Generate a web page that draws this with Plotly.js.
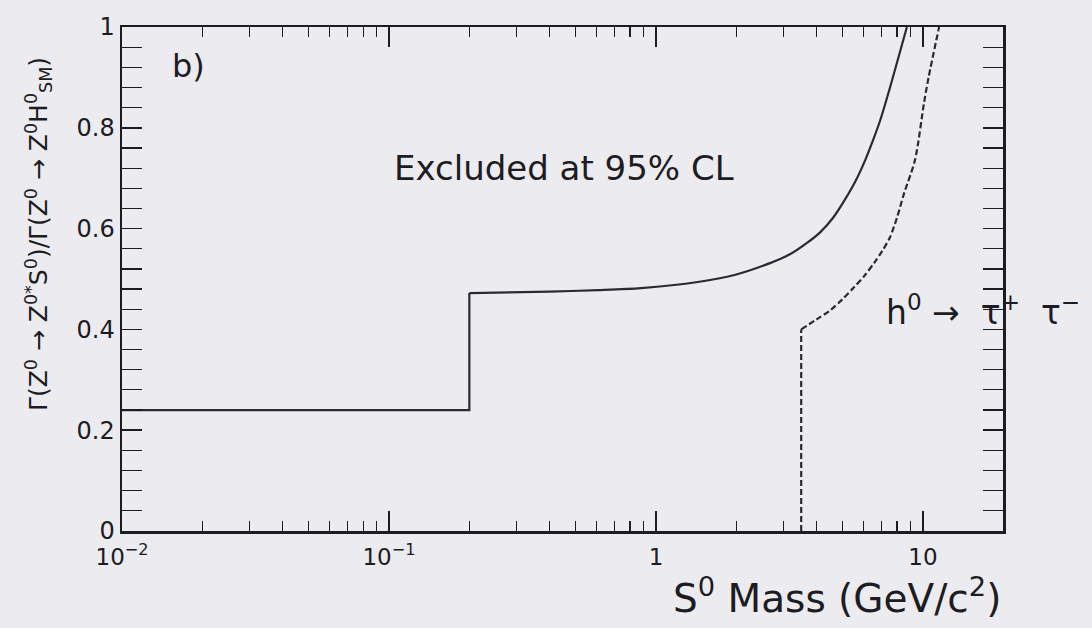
<!DOCTYPE html>
<html>
<head>
<meta charset="utf-8">
<script src="https://cdn.plot.ly/plotly-3.0.1.min.js"></script>
<style>html,body{margin:0;padding:0;background:#ecebf0;}#chart{width:1092px;height:628px;}</style>
</head>
<body>
<div id="chart"></div>
<script>
// Solid curve (95% CL limit); first three points are the step
const solidMass = [0.01, 0.2, 0.2, 0.4, 0.608, 0.879, 1.435, 1.97, 2.69, 3.2, 3.69, 4.13, 4.6, 5.07, 5.6, 6.08, 6.5, 6.92, 7.53, 8.1, 8.71];
const solidRatio = [0.24, 0.24, 0.472, 0.475, 0.478, 0.482, 0.494, 0.508, 0.532, 0.550, 0.572, 0.593, 0.621, 0.655, 0.695, 0.736, 0.775, 0.815, 0.88, 0.94, 1.0];
// Dashed curve (h0 -> tau+ tau-); first two points are the vertical edge
const dashMass = [3.5, 3.5, 4.0, 4.5, 5.0, 5.53, 6.05, 6.57, 7.05, 7.53, 8.0, 8.5, 9.34, 10.1, 10.5, 11.5];
const dashRatio = [0, 0.40, 0.42, 0.438, 0.46, 0.484, 0.507, 0.532, 0.556, 0.583, 0.622, 0.67, 0.736, 0.85, 0.90, 1.0];
// Axis ticks
const xTickVals = [0.01, 0.1, 1, 10];
const xTickText = ['10<sup>−2</sup>', '10<sup>−1</sup>', '1', '10'];
const xMinorMultipliers = [2, 3, 4, 5, 6, 7, 8, 9];
const yTickVals = [0, 0.2, 0.4, 0.6, 0.8, 1];
const yTickText = ['0', '0.2', '0.4', '0.6', '0.8', '1'];

const xMinor = [];
xTickVals.forEach(d => xMinorMultipliers.forEach(k => xMinor.push(d * k)));

const ink = '#1c1c22';
const lineInk = '#2a2a30';
const font = 'DejaVu Sans, sans-serif';

const traces = [
  {x: solidMass.slice(0, 3), y: solidRatio.slice(0, 3), type: 'scatter', mode: 'lines', xaxis: 'x2',
   line: {color: lineInk, width: 2.2}, hoverinfo: 'skip'},
  {x: solidMass.slice(2), y: solidRatio.slice(2), type: 'scatter', mode: 'lines',
   line: {color: lineInk, width: 2.2, shape: 'spline', smoothing: 0.8}, hoverinfo: 'skip'},
  {x: dashMass.slice(0, 2), y: dashRatio.slice(0, 2), type: 'scatter', mode: 'lines',
   line: {color: lineInk, width: 2.2, dash: '6px,3px'}, hoverinfo: 'skip'},
  {x: dashMass.slice(1), y: dashRatio.slice(1), type: 'scatter', mode: 'lines',
   line: {color: lineInk, width: 2.2, dash: '6px,3px', shape: 'spline', smoothing: 0.8}, hoverinfo: 'skip'}
];

const layout = {
  width: 1092, height: 628,
  margin: {l: 122, r: 89, t: 27, b: 97},
  paper_bgcolor: '#ecebf0', plot_bgcolor: '#ecebf0',
  showlegend: false,
  font: {family: font, color: ink, size: 23},
  xaxis: {
    type: 'log', range: [-2, 1.3],
    tickmode: 'array', tickvals: xTickVals, ticktext: xTickText,
    ticks: 'inside', ticklen: 20, tickwidth: 1.5, tickcolor: ink,
    ticklabelstandoff: 4,
    showline: true, linecolor: ink, linewidth: 2.5, mirror: 'allticks',
    showgrid: false, zeroline: false,
    tickfont: {family: font, size: 23, color: ink}
  },
  xaxis2: {
    type: 'log', range: [-2, 1.3], overlaying: 'x', anchor: 'y', side: 'bottom',
    tickmode: 'array', tickvals: xMinor, showticklabels: false,
    ticks: 'inside', ticklen: 10, tickwidth: 1.2, tickcolor: ink,
    showline: false, mirror: 'allticks',
    showgrid: false, zeroline: false
  },
  yaxis: {
    range: [0, 1],
    tickmode: 'array', tickvals: yTickVals, ticktext: yTickText,
    ticks: 'inside', ticklen: 20, tickwidth: 1.5, tickcolor: ink,
    minor: {dtick: 0.04, ticks: 'inside', ticklen: 10, tickwidth: 1.2, tickcolor: ink, showgrid: false},
    showline: true, linecolor: ink, linewidth: 2.5, mirror: 'allticks',
    showgrid: false, zeroline: false,
    tickfont: {family: font, size: 24, color: ink}
  },
  annotations: [
    {xref: 'x', yref: 'y', x: -1.821, y: 0.923, xanchor: 'left', yanchor: 'middle',
     text: 'b)', showarrow: false, font: {family: font, size: 32, color: ink}},
    {xref: 'x', yref: 'y', x: -0.343, y: 0.720, xanchor: 'center', yanchor: 'middle',
     text: 'Excluded at 95% CL', showarrow: false, font: {family: font, size: 34, color: ink}},
    {xref: 'x', yref: 'y', x: 0.854, y: 0.39, xanchor: 'left', yanchor: 'bottom',
     text: 'h<sup>0</sup> →  τ<sup>+</sup>  τ<sup>−</sup>', showarrow: false,
     font: {family: font, size: 33, color: ink}},
    {xref: 'paper', yref: 'paper', x: 1.0, y: -0.128, xanchor: 'right', yanchor: 'middle',
     text: 'S<sup>0</sup> Mass (GeV/c<sup>2</sup>)', showarrow: false,
     font: {family: font, size: 39, color: ink}},
    {xref: 'paper', yref: 'paper', x: -0.095, y: 0.59, xanchor: 'center', yanchor: 'middle',
     textangle: -90,
     text: 'Γ(Z<sup>0</sup> → Z<sup>0*</sup>S<sup>0</sup>)/Γ(Z<sup>0</sup> → Z<sup>0</sup>H<sup>0</sup><sub>SM</sub>)',
     showarrow: false, font: {family: font, size: 25, color: ink}}
  ]
};

Plotly.newPlot('chart', traces, layout, {displayModeBar: false, staticPlot: true});
</script>
</body>
</html>
